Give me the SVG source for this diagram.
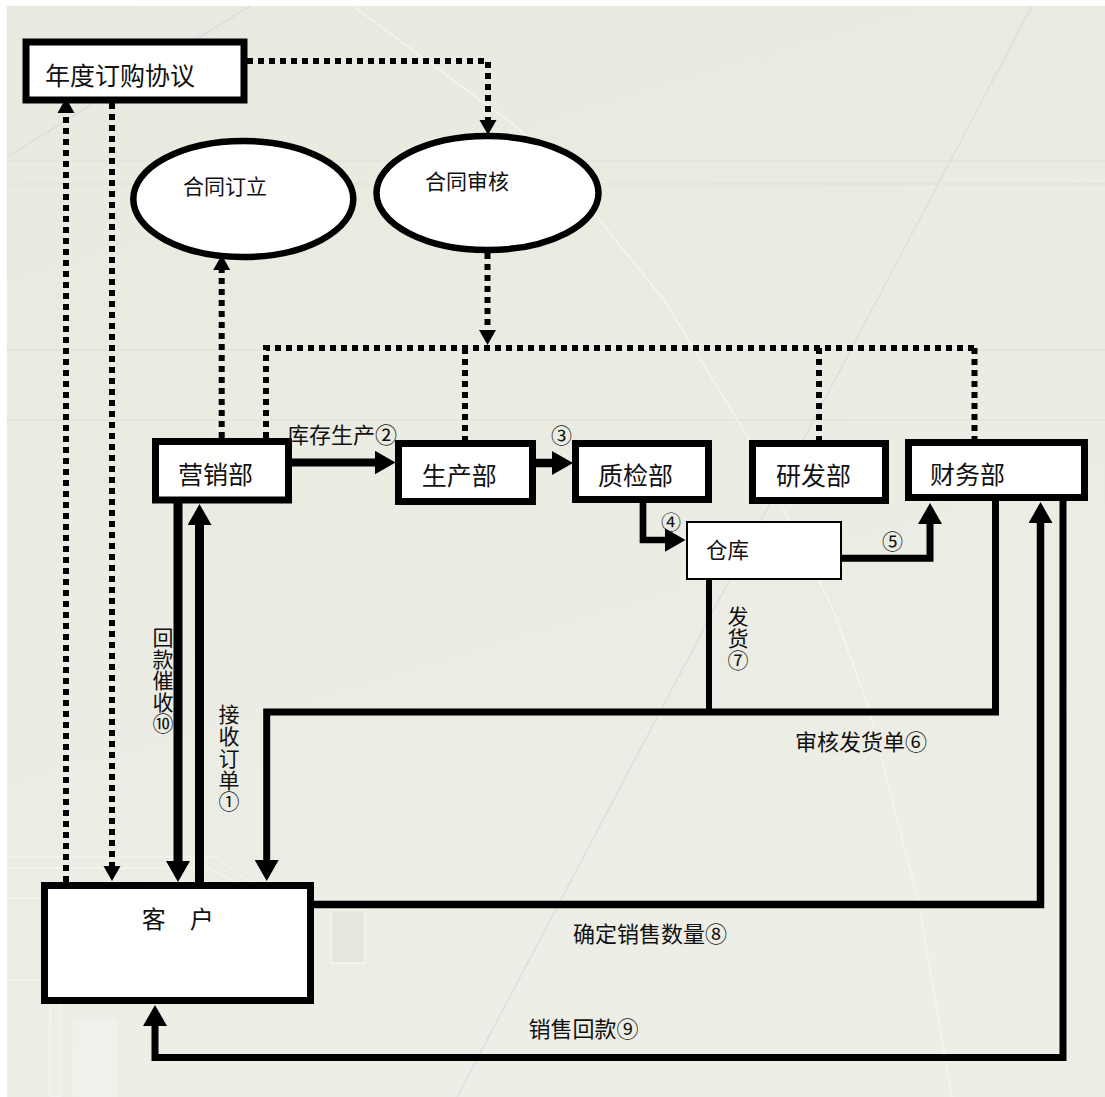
<svg xmlns="http://www.w3.org/2000/svg" width="1105" height="1097" viewBox="0 0 1105 1097">
  <defs>
    <linearGradient id="bg" x1="0" y1="0" x2="0.3" y2="1">
      <stop offset="0" stop-color="#E8EADF"/>
      <stop offset="1" stop-color="#EDEEE6"/>
    </linearGradient>
    <marker id="ah" markerUnits="userSpaceOnUse" markerWidth="22" markerHeight="24" refX="1" refY="12" orient="auto">
      <path d="M0,0 L21,12 L0,24 Z" fill="#000"/>
    </marker>
    <marker id="dh" markerUnits="userSpaceOnUse" markerWidth="16" markerHeight="18" refX="1" refY="9" orient="auto">
      <path d="M0,0.5 L15,9 L0,17.5 Z" fill="#000"/>
    </marker>
  </defs>
  <style>
    .box{fill:#fff;stroke:#000;stroke-width:7}
    .thin{stroke-width:2}
    .ell{fill:#fff;stroke:#000;stroke-width:6.5}
    .t{font-family:"Noto Sans CJK SC","Noto Sans CJK JP",sans-serif;fill:#111}
    .v{writing-mode:tb;glyph-orientation-vertical:0;text-anchor:start}
    .dot{fill:none;stroke:#000;stroke-width:6;stroke-dasharray:6 5}
    .sol{fill:none;stroke:#000;stroke-linejoin:miter;stroke-linecap:butt}
    .deco{fill:none;stroke-width:1.5}
  </style>

  <!-- background -->
  <rect x="0" y="0" width="1105" height="1097" fill="#ffffff"/>
  <rect x="7" y="6" width="1098" height="1091" fill="url(#bg)"/>
  <g id="background-decoration">
    <line class="deco" x1="7" y1="161" x2="1105" y2="161" stroke="#e2e4dc"/>
    <line class="deco" x1="7" y1="184" x2="1105" y2="184" stroke="#e2e4dc"/>
    <line class="deco" x1="7" y1="350" x2="1105" y2="350" stroke="#e2e4dc"/>
    <line class="deco" x1="7" y1="420" x2="1105" y2="420" stroke="#e2e4dc"/>
    <line class="deco" x1="1032" y1="6" x2="457" y2="1097" stroke="#dcdee2"/>
    <line class="deco" x1="250" y1="6" x2="7" y2="157" stroke="#dcdee2"/>
    <path class="deco" d="M353,6 L518,128 L594,213 L664,300 L748,437 L832,607 L868,705 L918,900 L952,1097" stroke="#f5f6f0"/>
    <path class="deco" d="M7,857 H215 L250,882 M7,868 H210 L235,882 M7,898 H41 M7,980 H41" stroke="#f3f4ee"/>
    <rect x="50" y="980" width="10" height="117" fill="none" stroke="#f3f4ee" stroke-width="1.5"/>
    <rect x="73" y="1018" width="45" height="79" fill="#f0f1ea"/>
    <rect x="331" y="910" width="34" height="53" fill="#e4e7db" stroke="#f3f4ee" stroke-width="2"/>
  </g>

  <!-- connectors -->
  <g id="connectors">
    <!-- dotted -->
    <path class="dot" d="M247,61 H488 V121" marker-end="url(#dh)"/>
    <path class="dot" d="M66,882 V112" marker-end="url(#dh)"/>
    <path class="dot" d="M112,103 V867" marker-end="url(#dh)"/>
    <path class="dot" d="M221.7,438 V269" marker-end="url(#dh)"/>
    <path class="dot" d="M487.5,253 V331" marker-end="url(#dh)"/>
    <path class="dot" d="M266,438 V348 H975"/>
    <path class="dot" d="M465,348 V440"/>
    <path class="dot" d="M819,348 V440"/>
    <path class="dot" d="M974.5,348 V439"/>
    <!-- solid -->
    <path class="sol" stroke-width="8" d="M292,462.5 H375.5" marker-end="url(#ah)"/>
    <path class="sol" stroke-width="8.5" d="M536,463 H553" marker-end="url(#ah)"/>
    <path class="sol" stroke-width="6.7" d="M643,503 V540 H665.5" marker-end="url(#ah)"/>
    <path class="sol" stroke-width="7" d="M842,558.3 H930 V523" marker-end="url(#ah)"/>
    <path class="sol" stroke-width="9" d="M178,503 V862" marker-end="url(#ah)"/>
    <path class="sol" stroke-width="9" d="M199.5,882 V524" marker-end="url(#ah)"/>
    <path class="sol" stroke-width="7" d="M995.5,501 V712 H266.7 V861" marker-end="url(#ah)"/>
    <path class="sol" stroke-width="6" d="M709,580 V712"/>
    <path class="sol" stroke-width="7.5" d="M314,904.5 H1040.5 V522" marker-end="url(#ah)"/>
    <path class="sol" stroke-width="7" d="M1063,501 V1057.5 H155 V1025" marker-end="url(#ah)"/>
  </g>

  <!-- nodes -->
  <g id="node-annual">
    <rect class="box" x="26" y="42" width="218" height="58"/>
    <text class="t" x="45" y="84.5" font-size="25">年度订购协议</text>
  </g>
  <g id="node-contract-sign">
    <ellipse class="ell" cx="243.3" cy="199" rx="110" ry="58"/>
    <text class="t" x="183" y="194" font-size="21">合同订立</text>
  </g>
  <g id="node-contract-review">
    <ellipse class="ell" cx="487.5" cy="193" rx="111" ry="57"/>
    <text class="t" x="425" y="189" font-size="21">合同审核</text>
  </g>
  <g id="node-marketing">
    <rect class="box" x="155.5" y="441.5" width="133" height="58.5"/>
    <text class="t" x="178" y="484" font-size="25">营销部</text>
  </g>
  <g id="node-production">
    <rect class="box" x="398.5" y="443.5" width="134" height="58"/>
    <text class="t" x="421.7" y="485" font-size="25">生产部</text>
  </g>
  <g id="node-qc">
    <rect class="box" x="575.5" y="443.5" width="133" height="56"/>
    <text class="t" x="598" y="485" font-size="25">质检部</text>
  </g>
  <g id="node-rd">
    <rect class="box" x="752.5" y="443.5" width="133" height="57"/>
    <text class="t" x="776" y="485" font-size="25">研发部</text>
  </g>
  <g id="node-finance">
    <rect class="box" x="908.5" y="442.5" width="176" height="55"/>
    <text class="t" x="930" y="484" font-size="25">财务部</text>
  </g>
  <g id="node-warehouse">
    <rect class="box thin" x="687" y="522" width="154" height="57"/>
    <text class="t" x="706" y="558" font-size="21.5">仓库</text>
  </g>
  <g id="node-customer">
    <rect class="box" x="44.5" y="885.5" width="266" height="115"/>
    <text class="t" x="141.7" y="928" font-size="24">客　户</text>
  </g>

  <!-- connector labels -->
  <g id="labels">
    <text class="t" x="287" y="443" font-size="22">库存生产②</text>
    <text class="t" x="551" y="443" font-size="21">③</text>
    <text class="t" x="661" y="530" font-size="20">④</text>
    <text class="t" x="882" y="548.5" font-size="21">⑤</text>
    <text class="t" x="795" y="750" font-size="22">审核发货单⑥</text>
    <text class="t" x="573" y="942" font-size="22">确定销售数量⑧</text>
    <text class="t" x="528.5" y="1037" font-size="22">销售回款⑨</text>
    <text class="t v" x="163" y="627" font-size="21" letter-spacing="0.5">回款催收⑩</text>
    <text class="t v" x="229" y="704" font-size="21" letter-spacing="0.7">接收订单①</text>
    <text class="t v" x="738" y="606" font-size="21" letter-spacing="0.7">发货⑦</text>
  </g>
</svg>
